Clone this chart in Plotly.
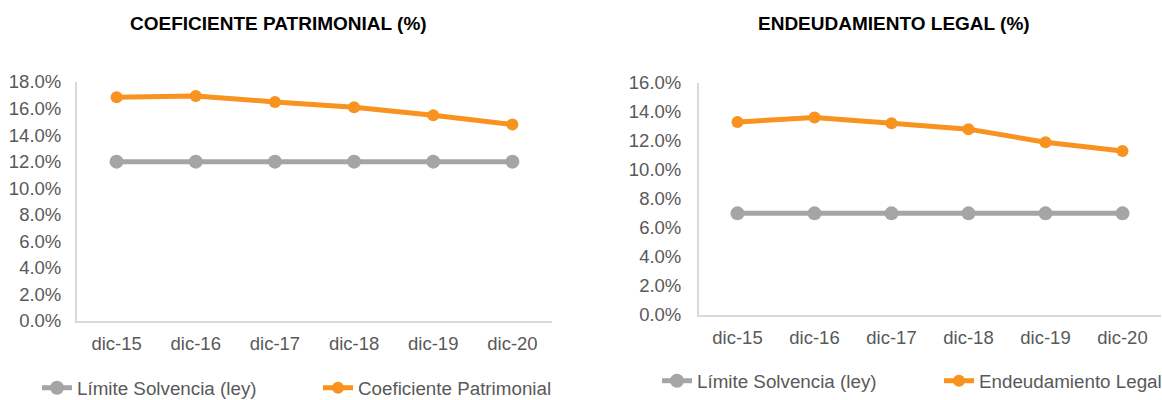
import plotly.graph_objects as go

# Periods shown on both charts
periodos = ["dic-15", "dic-16", "dic-17", "dic-18", "dic-19", "dic-20"]

# Coeficiente patrimonial (fraction) and its legal floor
limite_patrimonial = [0.12, 0.12, 0.12, 0.12, 0.12, 0.12]
coef_patrimonial = [0.1685, 0.1695, 0.165, 0.161, 0.155, 0.148]

# Endeudamiento legal (fraction) and its legal floor
limite_endeudamiento = [0.07, 0.07, 0.07, 0.07, 0.07, 0.07]
endeudamiento_legal = [0.133, 0.136, 0.132, 0.128, 0.119, 0.113]

ytick_izq = [i / 100 for i in range(0, 20, 2)]
ytick_der = [i / 100 for i in range(0, 18, 2)]

GRIS = "#A5A5A5"
NARANJA = "#F7931E"
TEXTO = "#595959"
EJE = "#D9D9D9"
FUENTE = "Liberation Sans, Arial, sans-serif"

W, H = 1162, 400

fig = go.Figure()


def serie(x, y, nombre, color, msize, xa, ya, legend):
    fig.add_trace(go.Scatter(
        x=x, y=y, name=nombre, mode="lines+markers",
        line=dict(color=color, width=5),
        marker=dict(color=color, size=msize),
        xaxis=xa, yaxis=ya, legend=legend,
    ))


serie(periodos, limite_patrimonial, "Límite Solvencia (ley)", GRIS, 14, "x", "y", "legend")
serie(periodos, coef_patrimonial, "Coeficiente Patrimonial", NARANJA, 12, "x", "y", "legend")
serie(periodos, limite_endeudamiento, "Límite Solvencia (ley)", GRIS, 14, "x2", "y2", "legend2")
serie(periodos, endeudamiento_legal, "Endeudamiento Legal", NARANJA, 12, "x2", "y2", "legend2")


def xeje(dom, anchor):
    return dict(
        domain=dom, anchor=anchor, type="category", range=[-0.5, 5.5],
        showline=True, linecolor=EJE, linewidth=2, showgrid=False,
        ticks="", tickfont=dict(size=18.5, color=TEXTO, family=FUENTE),
        ticklabelstandoff=5, zeroline=False, fixedrange=True,
        automargin=False,
    )


def yeje(dom, anchor, rng, vals, standoff):
    return dict(
        domain=dom, anchor=anchor, range=rng, tickvals=vals,
        tickformat=".1%", showline=True, linecolor=EJE, linewidth=2,
        showgrid=False, zeroline=False, ticks="",
        tickfont=dict(size=18.5, color=TEXTO, family=FUENTE),
        ticklabelstandoff=standoff, fixedrange=True, automargin=False,
    )


leyenda_base = dict(
    orientation="h", xanchor="left", yanchor="middle",
    font=dict(size=18.8, color=TEXTO, family=FUENTE),
    bgcolor="rgba(0,0,0,0)", itemclick=False, itemdoubleclick=False,
    traceorder="normal",
)

fig.update_layout(
    width=W, height=H,
    margin=dict(l=0, r=0, t=0, b=0, autoexpand=False),
    paper_bgcolor="white", plot_bgcolor="white",
    font=dict(family=FUENTE, color=TEXTO),
    xaxis=xeje([77 / W, 552 / W], "y"),
    yaxis=yeje([79 / H, 318 / H], "x", [0, 0.18], ytick_izq, 10),
    xaxis2=xeje([699 / W, 1161 / W], "y2"),
    yaxis2=yeje([85 / H, 317.3 / H], "x2", [0, 0.16], ytick_der, 12),
    legend=dict(leyenda_base, x=37 / W, y=12 / H, entrywidth=236),
    legend2=dict(leyenda_base, x=657 / W, y=19 / H, entrywidth=237),
    annotations=[
        dict(text="<b>COEFICIENTE PATRIMONIAL (%)</b>", x=278 / W, y=1 - 23 / H,
             xref="paper", yref="paper", xanchor="center", yanchor="middle",
             showarrow=False, font=dict(size=19, color="black", family=FUENTE)),
        dict(text="<b>ENDEUDAMIENTO LEGAL (%)</b>", x=894 / W, y=1 - 23 / H,
             xref="paper", yref="paper", xanchor="center", yanchor="middle",
             showarrow=False, font=dict(size=19, color="black", family=FUENTE)),
    ],
)

fig.write_html("out.html")
